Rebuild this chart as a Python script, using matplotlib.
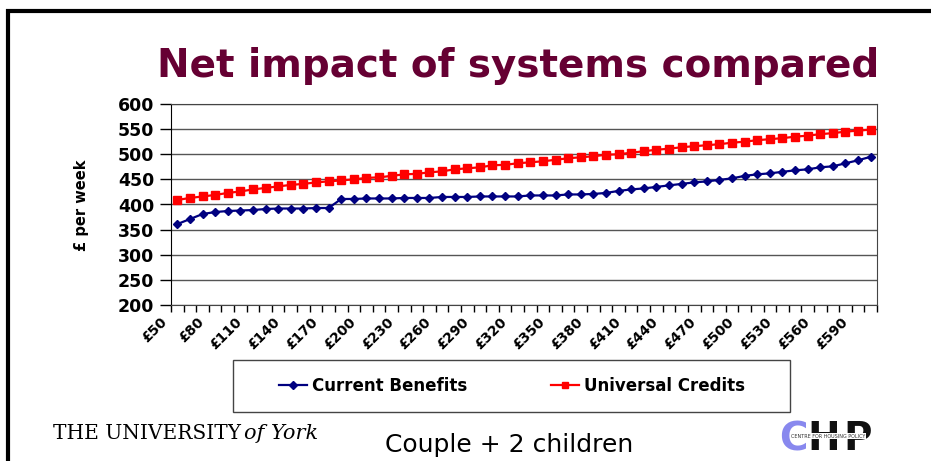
import numpy as np
import matplotlib
matplotlib.use("Agg")
import matplotlib.pyplot as plt
import matplotlib.transforms as mtransforms
from matplotlib.lines import Line2D
from matplotlib.patches import Rectangle

# earnings per week, £50 .. £600 in £10 steps
earnings = [f"£{v}" for v in range(50, 601, 10)]

current_benefits = [361, 371, 381, 385, 387, 388, 389, 391, 392, 392,
                    392, 393, 393, 411, 411, 412, 412, 412, 413, 413,
                    413, 415, 415, 415, 416, 416, 416, 416, 418, 418,
                    418, 420, 420, 421, 423, 427, 430, 432, 435, 438,
                    441, 444, 446, 449, 452, 457, 460, 462, 465, 468,
                    470, 474, 476, 482, 488, 495]

universal_credits = [409, 413, 416, 419, 423, 426, 430, 433, 436, 439,
                     441, 444, 446, 448, 450, 453, 454, 457, 460, 461,
                     464, 466, 470, 472, 474, 478, 479, 482, 484, 486,
                     489, 492, 494, 496, 499, 500, 503, 506, 509, 511,
                     514, 516, 518, 520, 523, 525, 528, 530, 532, 535,
                     537, 540, 542, 545, 547, 549]

y_ticks = list(range(200, 601, 50))

W, H = 931, 461
fig = plt.figure(figsize=(W / 100, H / 100), dpi=100)
fig.patch.set_facecolor("white")

# slide frame (thick black bar top and left)
fig.add_artist(Line2D([8 / W, 8 / W], [0, 1 - 9 / H], transform=fig.transFigure,
                      color="black", lw=3.0, solid_capstyle="butt"))
fig.add_artist(Line2D([6 / W, 1], [1 - 11 / H, 1 - 11 / H], transform=fig.transFigure,
                      color="black", lw=3.0, solid_capstyle="butt"))

fig.text(518 / W, 1 - 77 / H, "Net impact of systems compared", ha="center",
         va="baseline", fontsize=28, fontweight="bold", color="#660033")

ax = fig.add_axes([171 / W, 1 - 305 / H, (877 - 171) / W, (305 - 104) / H])
x = np.arange(len(earnings))
ax.plot(x, current_benefits, color="#000080", lw=1.6, marker="D", ms=4.5,
        label="Current Benefits", zorder=3)
ax.plot(x, universal_credits, color="#ff0000", lw=1.6, marker="s", ms=5.8,
        label="Universal Credits", zorder=3)

ax.set_xlim(-0.5, len(earnings) - 0.5)
ax.set_ylim(200, 600)
ax.set_yticks(y_ticks)
ax.tick_params(axis="y", length=8, width=1, pad=4, labelsize=12.5)
for lab in ax.get_yticklabels():
    lab.set_fontweight("bold")
ax.yaxis.grid(True, color="#555555", lw=1)
ax.set_axisbelow(True)

ax.set_xticks(x[::3])
ax.set_xticklabels(earnings[::3], rotation=45, ha="right", fontsize=10,
                   fontweight="bold")
ax.set_xticks(np.arange(-0.5, len(earnings)), minor=True)
ax.tick_params(axis="x", which="major", length=0, pad=7)
ax.tick_params(axis="x", which="minor", length=5, width=1)
shift = mtransforms.ScaledTranslation(-8 / 100, 0, fig.dpi_scale_trans)
for lab in ax.get_xticklabels():
    lab.set_transform(lab.get_transform() + shift)

for side in ("top", "right", "bottom"):
    ax.spines[side].set_color("#444444")
ax.spines["left"].set_color("black")

ax.set_ylabel("£ per week", fontsize=10.5, fontweight="bold")
ax.yaxis.set_label_coords(89 / W, 1 - 205 / H, transform=fig.transFigure)

# legend box
fig.add_artist(Rectangle((233 / W, 1 - 412 / H), (790 - 233) / W, 52 / H,
                         transform=fig.transFigure, fill=False,
                         edgecolor="#444444", lw=1))
fig.legend(loc="center", bbox_to_anchor=(512 / W, 1 - 386 / H), ncol=2,
           frameon=False, prop={"weight": "bold", "size": 12},
           handlelength=1.7, handletextpad=0.3, columnspacing=5.0,
           markerscale=0.8)

# footer
fig.text(53 / W, 1 - 439 / H, "THE UNIVERSITY", fontsize=14.5,
         family="DejaVu Serif", va="baseline", ha="left")
fig.text(244 / W, 1 - 439 / H, "of York", fontsize=15, family="DejaVu Serif",
         style="italic", va="baseline", ha="left")
fig.text(509 / W, 1 - 452 / H, "Couple + 2 children", fontsize=18,
         fontweight="normal", ha="center", va="baseline")

fig.text(779 / W, 1 - 450 / H, "C", fontsize=28, fontweight="bold",
         color="#8888ee", ha="left", va="baseline")
fig.text(807 / W, 1 - 450 / H, "H", fontsize=28, fontweight="bold",
         color="#111111", ha="left", va="baseline")
fig.text(843 / W, 1 - 450 / H, "P", fontsize=28, fontweight="bold",
         color="#111111", ha="left", va="baseline")
fig.text(828 / W, 1 - 436 / H, "CENTRE FOR HOUSING POLICY", fontsize=3.5,
         color="#333333", ha="center", va="center",
         bbox=dict(facecolor="white", edgecolor="none", pad=0.5))

fig.savefig("out.png", dpi=100)
